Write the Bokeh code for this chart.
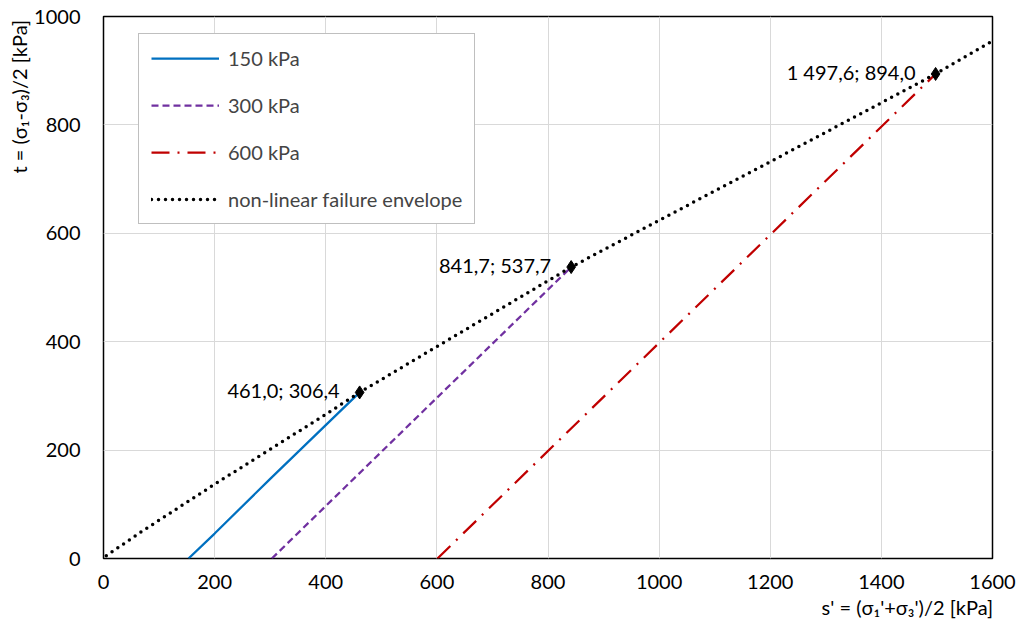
from bokeh.plotting import figure
from bokeh.models import Range1d, Legend, LegendItem, Label, FixedTicker, Title
from bokeh.embed import file_html
from bokeh.resources import INLINE

# ---- data ----
s_150 = [153, 200, 300, 400, 461.0]
t_150 = [0, 46, 147, 246, 306.4]
s_300 = [303, 841.7]
t_300 = [0, 537.7]
s_600 = [601, 1497.6]
t_600 = [0, 894.0]
s_env = [5, 66, 200, 400, 461.0, 600, 841.7, 1000, 1200, 1497.6, 1600]
t_env = [5, 48, 137, 266, 306.4, 391, 537.7, 624, 732, 894.0, 955]
fail_s = [461.0, 841.7, 1497.6]
fail_t = [306.4, 537.7, 894.0]
fail_lbl = ["461,0; 306,4", "841,7; 537,7", "1 497,6; 894,0"]
x_ticks = [0, 200, 400, 600, 800, 1000, 1200, 1400, 1600]
y_ticks = [0, 200, 400, 600, 800, 1000]
x_title = "s' = (σ₁'+σ₃')/2 [kPa]"
y_title = "t = (σ₁-σ₃)/2 [kPa]"

FONT = "Lato"
FS = "20px"
W, H = 1019, 633
L, R, T, B = 103, 27, 16, 75

p = figure(width=W, height=H, output_backend="svg", toolbar_location=None,
           x_range=Range1d(0, 1600), y_range=Range1d(0, 1000),
           min_border_left=L, min_border_right=R, min_border_top=T, min_border_bottom=B)
p.background_fill_color = "white"
p.border_fill_color = "white"
p.outline_line_color = "black"
p.outline_line_width = 1.5

for ax, ticks in ((p.xaxis, x_ticks), (p.yaxis, y_ticks)):
    ax.ticker = FixedTicker(ticks=ticks)
    ax.axis_line_color = None
    ax.major_tick_line_color = None
    ax.minor_tick_line_color = None
    ax.major_label_text_font = FONT
    ax.major_label_text_font_size = FS
    ax.major_label_text_color = "#000000"
p.xaxis.major_label_standoff = 10
p.yaxis.major_label_standoff = 17

p.xgrid.grid_line_color = "#d9d9d9"
p.ygrid.grid_line_color = "#d9d9d9"
p.xgrid.ticker = FixedTicker(ticks=x_ticks)
p.ygrid.ticker = FixedTicker(ticks=y_ticks)

r150 = p.line(s_150, t_150, line_color="#0070C0", line_width=2.25)
r300 = p.line(s_300, t_300, line_color="#7030A0", line_width=2.25, line_dash="7 4")
r600 = p.line(s_600, t_600, line_color="#C00000", line_width=2.25, line_dash="18 8 2 8")
renv = p.line(s_env, t_env, line_color="black", line_width=3.5, line_dash="0 7", line_cap="round")
p.scatter(fail_s, fail_t, marker="diamond", size=13, fill_color="black", line_color="black")

for s, t, txt in zip(fail_s, fail_t, fail_lbl):
    p.add_layout(Label(x=s, y=t, text=txt, x_offset=-20, y_offset=2, text_align="right",
                       text_baseline="middle", text_font=FONT, text_font_size=FS,
                       text_color="black"))

legend = Legend(items=[LegendItem(label="150 kPa", renderers=[r150]),
                       LegendItem(label="300 kPa", renderers=[r300]),
                       LegendItem(label="600 kPa", renderers=[r600]),
                       LegendItem(label="non-linear failure envelope", renderers=[renv])],
                location=(35, 334), orientation="vertical")
legend.label_text_font = FONT
legend.label_text_font_size = FS
legend.label_height = 24
legend.glyph_height = 24
legend.glyph_width = 68
legend.spacing = 23
legend.padding = 12
legend.margin = 0
legend.label_standoff = 9
legend.border_line_color = "#808080"
legend.border_line_width = 1.5
legend.background_fill_alpha = 1.0
p.add_layout(legend, "center")

# axis titles
p.add_layout(Title(text=x_title, align="right", text_font=FONT, text_font_size=FS,
                   text_font_style="normal", text_color="black", standoff=2), "below")
p.add_layout(Title(text=y_title, align="right", text_font=FONT, text_font_size=FS,
                   text_font_style="normal", text_color="black", standoff=2, offset=4), "left")

open("out.html", "w").write(file_html(p, INLINE))
